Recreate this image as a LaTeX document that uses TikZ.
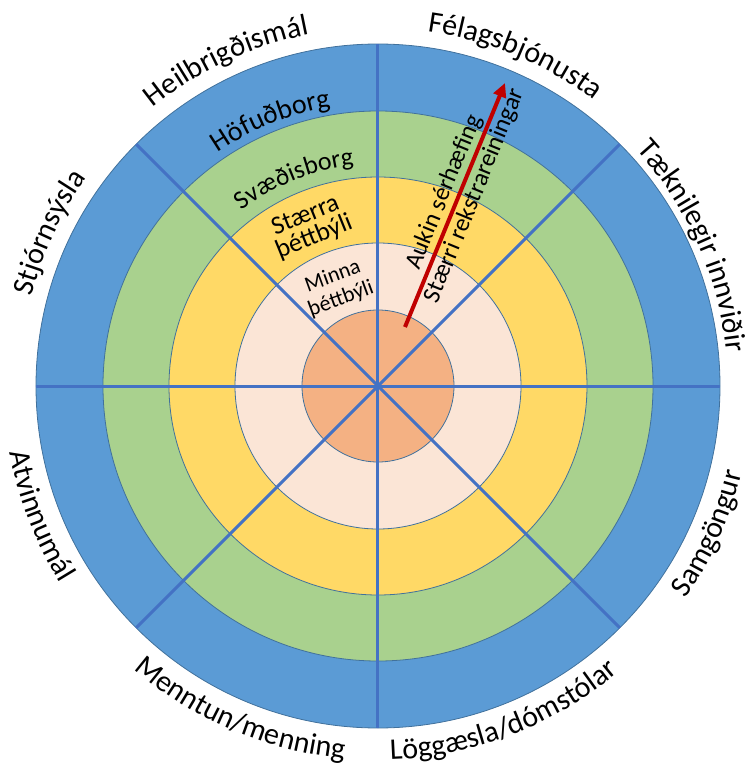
\documentclass[tikz,border=0pt]{standalone}
\usepackage{fontspec}
\setmainfont{Carlito}
\usetikzlibrary{arrows.meta,decorations.text}

\definecolor{ringblue}{HTML}{5B9BD5}
\definecolor{ringgreen}{HTML}{A9D18E}
\definecolor{ringyellow}{HTML}{FFD966}
\definecolor{ringpink}{HTML}{FBE5D6}
\definecolor{ringorange}{HTML}{F4B183}
\definecolor{ringline}{HTML}{41719C}
\definecolor{spokeblue}{HTML}{4472C4}
\definecolor{arrowred}{HTML}{C00000}

\protected\def\outerfont{\fontsize{30}{36}\selectfont}
\protected\def\ringfont{\fontsize{28}{32}\selectfont}

\begin{document}
\begin{tikzpicture}[x=1pt,y=1pt,
  ring/.style={draw=ringline,line width=0.8pt},
  spoke/.style={draw=spokeblue,line width=3pt},
  growth/.style={draw=arrowred,line width=4pt,-{Triangle[length=14pt,width=13pt]}},
  sidetext/.style={font=\fontsize{25}{28}\selectfont,inner sep=2pt,sloped}]
  \useasboundingbox (-378,-383) rectangle (375,386);
  \foreach \r/\col in {342/ringblue,275/ringgreen,209/ringyellow,143/ringpink,76/ringorange}{
    \filldraw[ring,fill=\col] (0,0) circle (\r);
  }
  \coordinate (hub) at (0,0);
  \foreach \a in {0,45,...,315}{
    \draw[spoke] (hub) -- (\a:342);
  }
  \foreach \a/\rad/\txt in {155/358/Stjórnsýsla,115/358/Heilbrigðismál,67.5/358/Félagsbjónusta,24/350/Tæknilegir innviðir}{
    \path[decorate,decoration={text along path,text align=center,text/.expanded={|\outerfont|\txt}}]
      (\a+40:\rad) arc[start angle=\a+40,end angle=\a-40,radius=\rad];
  }
  \foreach \a/\txt in {201/Atvinnumál,247/Menntun{/}menning,291/Löggæsla{/}dómstólar,336/Samgöngur}{
    \path[decorate,decoration={text along path,text align=center,text/.expanded={|\outerfont|\txt}}]
      (\a-40:374) arc[start angle=\a-40,end angle=\a+40,radius=374];
  }
  \path[decorate,decoration={text along path,text align=center,text={|\ringfont|Höfuðborg}}]
    (152:283) arc[start angle=152,end angle=72,radius=283];
  \path[decorate,decoration={text along path,text align=center,text={|\fontsize{26}{30}\selectfont|Svæðisborg}}]
    (152:222) arc[start angle=152,end angle=72,radius=222];
  \node[rotate=22,align=center,font=\fontsize{26}{23}\selectfont] (staerra) at (-68,159) {Stærra\\þéttbýli};
  \node[rotate=20,align=center,font=\fontsize{22}{24}\selectfont] (minna) at (-41,98) {Minna\\þéttbýli};
  \coordinate (arrowfrom) at (27,59);
  \coordinate (arrowto) at (127,303);
  \draw[growth] (arrowfrom) -- node[sidetext,pos=0.53,above] (aukin) {Aukin sérhæfing}
    node[sidetext,pos=0.56,below] (staerri) {Stærri rekstrareiningar} (arrowto);
\end{tikzpicture}
\end{document}
